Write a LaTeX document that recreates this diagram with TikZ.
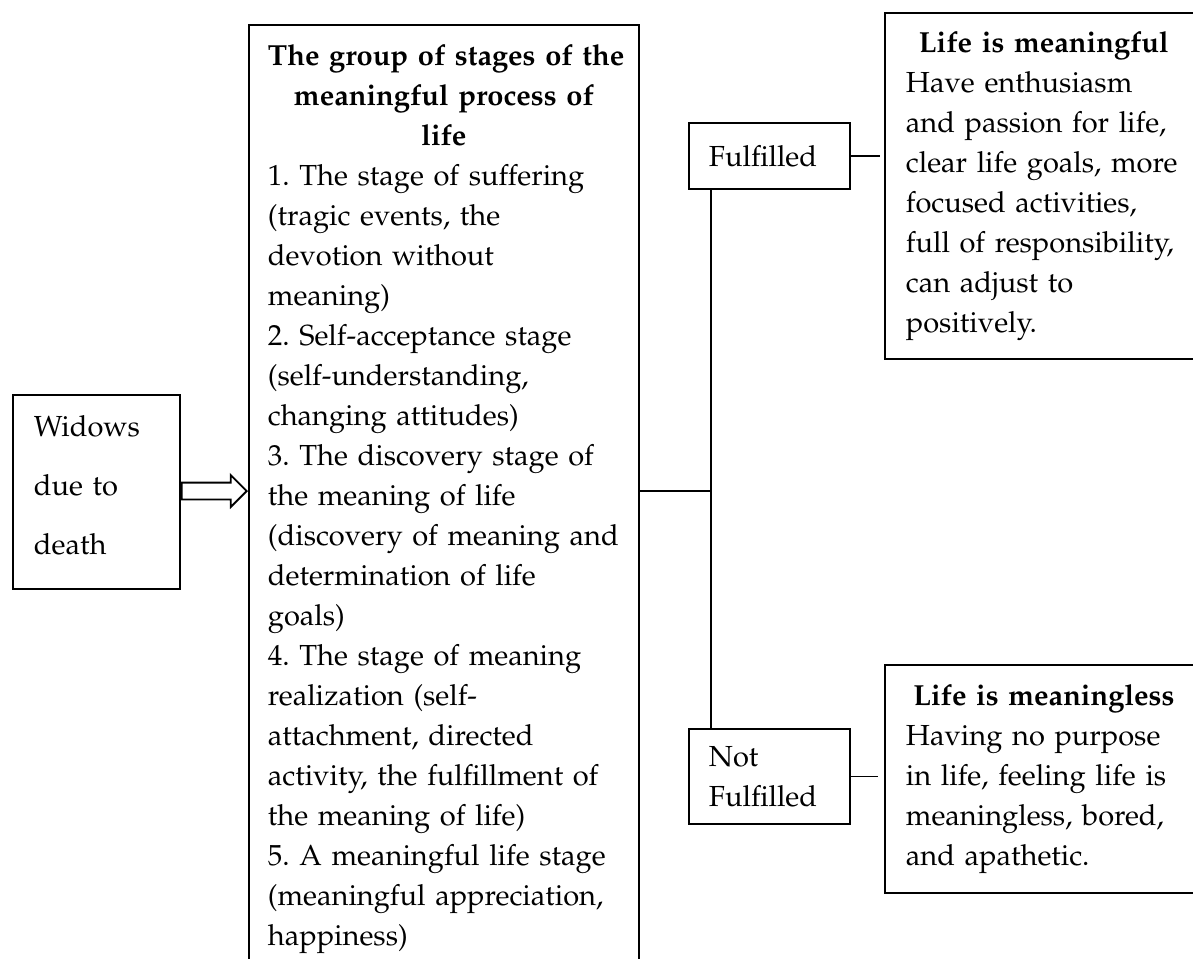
\documentclass[tikz,border=0pt]{standalone}
\usepackage[T1]{fontenc}
\usepackage{mathpazo}
\usepackage{tikz}
\usetikzlibrary{positioning}
\usetikzlibrary{shapes,backgrounds,arrows}
\frenchspacing
\newlength{\unitpx}
\setlength{\unitpx}{0.41pt}
\tikzstyle{box} = [draw, line width=0.75pt, anchor=north west, align=left, inner xsep=21*\unitpx, inner ysep=0pt, font=\fontsize{11.9}{16.4}\selectfont]
\tikzstyle{line} = [draw, line width=0.75pt]
\tikzstyle{hollow arrow} = [draw, line width=0.75pt, single arrow, single arrow head extend=7.5*\unitpx, inner sep=7.5*\unitpx, minimum height=65*\unitpx, anchor=tip]
\newcommand{\headline}[1]{\mbox{\bfseries #1}}

\begin{document}
\begin{tikzpicture}[x=0.41pt, y=-0.41pt]
	\useasboundingbox (0,0) rectangle (1193,958);

	% left box and the big stages box
	\node[box, text width=125*\unitpx, minimum height=194*\unitpx, text depth=132*\unitpx, font=\fontsize{11.9}{24.2}\selectfont] (widows) at (12,394) {Widows\\due to\\death};
	\node[box, text width=352*\unitpx, inner xsep=19*\unitpx, inner ysep=20*\unitpx] (stages) at (248,24) {{\centering\headline{The group of stages of the}\\\headline{meaningful process of}\\\headline{life}\par}
		1. The stage of suffering\\(tragic events, the\\devotion without\\meaning)\\
		2. Self-acceptance stage\\(self-understanding,\\changing attitudes)\\
		3. The discovery stage of\\the meaning of life\\(discovery of meaning and\\determination of life\\goals)\\
		4. The stage of meaning\\realization (self-\\attachment, directed\\activity, the fulfillment of\\the meaning of life)\\
		5. A meaningful life stage\\(meaningful appreciation,\\happiness)\\[30pt]\mbox{}};

	% outcomes
	\node[box, text width=121*\unitpx, inner xsep=20*\unitpx, minimum height=66*\unitpx] (fulfilled) at (688,122) {Fulfilled};
	\node[box, text width=121*\unitpx, inner xsep=20*\unitpx, minimum height=95*\unitpx] (notfulfilled) at (688,728) {Not\\Fulfilled};

	\node[box, text width=276*\unitpx, minimum height=346*\unitpx] (meaningful) at (884,12) {{\centering\headline{Life is meaningful}\par}
		Have enthusiasm\\and passion for life,\\clear life goals, more\\focused activities,\\full of responsibility,\\can adjust to\\positively.};
	\node[box, text width=276*\unitpx, minimum height=228*\unitpx] (meaningless) at (884,664) {{\centering\headline{Life is meaningless}\par}
		Having no purpose\\in life, feeling life is\\meaningless, bored,\\and apathetic.};

	% connectors
	\coordinate (split) at (711,491);
	\node[hollow arrow] (arrow) at (stages.west |- split) {};
	\draw[line] (stages.east |- split) -- (split);
	\draw[line] (fulfilled.south -| split) -- (notfulfilled.north -| split);
	\draw[line, shorten >=4*\unitpx] (fulfilled.east) -- (fulfilled.east -| meaningful.west);
	\draw[line, shorten >=6*\unitpx] (notfulfilled.east) -- (notfulfilled.east -| meaningless.west);
\end{tikzpicture}
\end{document}
